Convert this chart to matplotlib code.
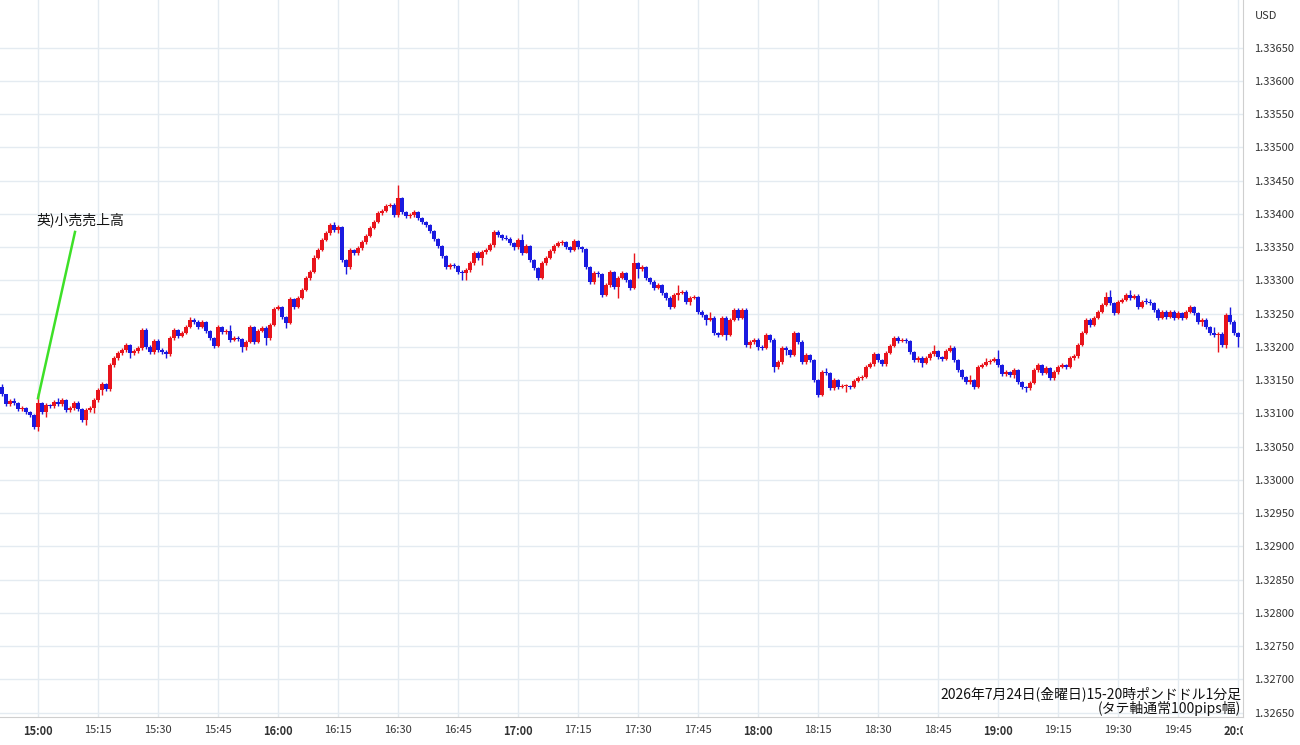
import numpy as np
import pandas as pd
import matplotlib
matplotlib.use('Agg')
import matplotlib.pyplot as plt
import matplotlib.dates as mdates
from matplotlib.transforms import Bbox, TransformedBbox

plt.rcParams['font.family'] = ['Noto Sans CJK JP', 'DejaVu Sans']

# GBP/USD 1-minute candles, 2026-07-24 14:51 - 20:00
start_time = '2026-07-24 14:51'
first_open = 1.33140

closes = np.array([
    1.33129, 1.33114, 1.33119, 1.33116, 1.33107, 1.33108, 1.33102, 1.33098, 1.33080, 1.33116,
    1.33102, 1.33113, 1.33111, 1.33117, 1.33114, 1.33120, 1.33105, 1.33108, 1.33116, 1.33107,
    1.33090, 1.33105, 1.33108, 1.33120, 1.33135, 1.33144, 1.33137, 1.33173, 1.33183, 1.33191,
    1.33195, 1.33203, 1.33191, 1.33194, 1.33199, 1.33226, 1.33200, 1.33192, 1.33209, 1.33195,
    1.33192, 1.33189, 1.33214, 1.33226, 1.33217, 1.33221, 1.33230, 1.33241, 1.33238, 1.33230,
    1.33238, 1.33224, 1.33214, 1.33202, 1.33230, 1.33223, 1.33224, 1.33211, 1.33214, 1.33212,
    1.33200, 1.33208, 1.33230, 1.33208, 1.33224, 1.33229, 1.33214, 1.33233, 1.33257, 1.33260,
    1.33245, 1.33236, 1.33272, 1.33260, 1.33274, 1.33286, 1.33304, 1.33313, 1.33334, 1.33346,
    1.33361, 1.33371, 1.33383, 1.33376, 1.33380, 1.33331, 1.33320, 1.33346, 1.33341, 1.33349,
    1.33358, 1.33367, 1.33379, 1.33388, 1.33402, 1.33405, 1.33412, 1.33414, 1.33398, 1.33424,
    1.33403, 1.33397, 1.33398, 1.33403, 1.33394, 1.33388, 1.33383, 1.33374, 1.33362, 1.33352,
    1.33337, 1.33320, 1.33323, 1.33322, 1.33313, 1.33311, 1.33316, 1.33326, 1.33341, 1.33334,
    1.33343, 1.33346, 1.33353, 1.33373, 1.33368, 1.33364, 1.33363, 1.33356, 1.33350, 1.33361,
    1.33341, 1.33352, 1.33331, 1.33319, 1.33304, 1.33326, 1.33334, 1.33344, 1.33352, 1.33356,
    1.33358, 1.33350, 1.33346, 1.33359, 1.33350, 1.33347, 1.33320, 1.33298, 1.33311, 1.33310,
    1.33278, 1.33293, 1.33313, 1.33290, 1.33304, 1.33311, 1.33301, 1.33289, 1.33326, 1.33317,
    1.33320, 1.33304, 1.33298, 1.33289, 1.33293, 1.33281, 1.33274, 1.33260, 1.33278, 1.33281,
    1.33283, 1.33268, 1.33274, 1.33275, 1.33253, 1.33248, 1.33241, 1.33244, 1.33221, 1.33218,
    1.33244, 1.33218, 1.33241, 1.33256, 1.33244, 1.33256, 1.33203, 1.33208, 1.33211, 1.33200,
    1.33199, 1.33218, 1.33211, 1.33170, 1.33177, 1.33199, 1.33195, 1.33188, 1.33221, 1.33208,
    1.33177, 1.33188, 1.33180, 1.33150, 1.33128, 1.33162, 1.33161, 1.33138, 1.33150, 1.33140,
    1.33141, 1.33142, 1.33140, 1.33149, 1.33153, 1.33155, 1.33170, 1.33174, 1.33189, 1.33180,
    1.33174, 1.33191, 1.33202, 1.33214, 1.33209, 1.33211, 1.33209, 1.33192, 1.33180, 1.33183,
    1.33176, 1.33183, 1.33189, 1.33194, 1.33185, 1.33182, 1.33194, 1.33199, 1.33180, 1.33165,
    1.33155, 1.33147, 1.33150, 1.33140, 1.33170, 1.33173, 1.33177, 1.33179, 1.33182, 1.33173,
    1.33159, 1.33162, 1.33158, 1.33165, 1.33147, 1.33140, 1.33138, 1.33146, 1.33165, 1.33173,
    1.33161, 1.33168, 1.33153, 1.33162, 1.33170, 1.33173, 1.33170, 1.33183, 1.33186, 1.33203,
    1.33221, 1.33241, 1.33233, 1.33244, 1.33253, 1.33263, 1.33275, 1.33266, 1.33251, 1.33268,
    1.33271, 1.33278, 1.33274, 1.33277, 1.33260, 1.33268, 1.33267, 1.33266, 1.33256, 1.33244,
    1.33253, 1.33245, 1.33253, 1.33244, 1.33251, 1.33244, 1.33253, 1.33260, 1.33251, 1.33238,
    1.33241, 1.33230, 1.33221, 1.33218, 1.33220, 1.33203, 1.33248, 1.33238, 1.33221, 1.33215,
])

highs = np.array([
    1.33144, 1.33129, 1.33122, 1.33123, 1.33118, 1.33111, 1.33110, 1.33104, 1.33099, 1.33131,
    1.33118, 1.33116, 1.33115, 1.33120, 1.33123, 1.33123, 1.33122, 1.33112, 1.33119, 1.33119,
    1.33109, 1.33108, 1.33111, 1.33123, 1.33138, 1.33147, 1.33146, 1.33176, 1.33186, 1.33194,
    1.33198, 1.33206, 1.33205, 1.33197, 1.33202, 1.33229, 1.33228, 1.33203, 1.33212, 1.33212,
    1.33198, 1.33195, 1.33217, 1.33229, 1.33227, 1.33224, 1.33233, 1.33245, 1.33243, 1.33240,
    1.33241, 1.33239, 1.33226, 1.33215, 1.33233, 1.33232, 1.33227, 1.33233, 1.33217, 1.33217,
    1.33214, 1.33211, 1.33233, 1.33232, 1.33227, 1.33232, 1.33231, 1.33236, 1.33260, 1.33263,
    1.33262, 1.33246, 1.33275, 1.33274, 1.33277, 1.33289, 1.33307, 1.33316, 1.33338, 1.33349,
    1.33364, 1.33374, 1.33386, 1.33388, 1.33383, 1.33382, 1.33333, 1.33349, 1.33348, 1.33352,
    1.33361, 1.33370, 1.33382, 1.33391, 1.33405, 1.33408, 1.33415, 1.33417, 1.33416, 1.33444,
    1.33426, 1.33405, 1.33401, 1.33406, 1.33405, 1.33396, 1.33390, 1.33385, 1.33376, 1.33364,
    1.33354, 1.33339, 1.33326, 1.33326, 1.33324, 1.33316, 1.33319, 1.33329, 1.33344, 1.33344,
    1.33346, 1.33349, 1.33356, 1.33376, 1.33376, 1.33370, 1.33368, 1.33366, 1.33358, 1.33364,
    1.33370, 1.33355, 1.33354, 1.33333, 1.33321, 1.33329, 1.33337, 1.33347, 1.33355, 1.33359,
    1.33361, 1.33360, 1.33352, 1.33362, 1.33361, 1.33352, 1.33349, 1.33322, 1.33314, 1.33314,
    1.33312, 1.33296, 1.33316, 1.33315, 1.33307, 1.33314, 1.33313, 1.33303, 1.33341, 1.33328,
    1.33323, 1.33322, 1.33306, 1.33300, 1.33296, 1.33295, 1.33283, 1.33276, 1.33281, 1.33293,
    1.33286, 1.33285, 1.33277, 1.33278, 1.33277, 1.33255, 1.33250, 1.33253, 1.33246, 1.33223,
    1.33247, 1.33246, 1.33244, 1.33259, 1.33258, 1.33259, 1.33258, 1.33211, 1.33214, 1.33213,
    1.33203, 1.33221, 1.33220, 1.33213, 1.33180, 1.33202, 1.33201, 1.33197, 1.33224, 1.33223,
    1.33210, 1.33191, 1.33190, 1.33182, 1.33152, 1.33165, 1.33168, 1.33163, 1.33153, 1.33152,
    1.33144, 1.33144, 1.33143, 1.33152, 1.33156, 1.33158, 1.33173, 1.33177, 1.33192, 1.33191,
    1.33182, 1.33194, 1.33205, 1.33217, 1.33216, 1.33214, 1.33213, 1.33211, 1.33194, 1.33186,
    1.33186, 1.33186, 1.33192, 1.33203, 1.33196, 1.33187, 1.33197, 1.33203, 1.33201, 1.33182,
    1.33167, 1.33157, 1.33158, 1.33152, 1.33173, 1.33176, 1.33183, 1.33182, 1.33185, 1.33195,
    1.33175, 1.33165, 1.33164, 1.33168, 1.33167, 1.33149, 1.33142, 1.33149, 1.33168, 1.33176,
    1.33175, 1.33171, 1.33170, 1.33165, 1.33173, 1.33176, 1.33175, 1.33186, 1.33189, 1.33206,
    1.33224, 1.33244, 1.33243, 1.33247, 1.33256, 1.33266, 1.33283, 1.33286, 1.33268, 1.33271,
    1.33274, 1.33281, 1.33286, 1.33280, 1.33279, 1.33271, 1.33274, 1.33272, 1.33268, 1.33258,
    1.33256, 1.33255, 1.33256, 1.33255, 1.33254, 1.33253, 1.33256, 1.33263, 1.33262, 1.33253,
    1.33244, 1.33243, 1.33232, 1.33230, 1.33223, 1.33222, 1.33251, 1.33260, 1.33240, 1.33223,
])

lows = np.array([
    1.33126, 1.33111, 1.33112, 1.33113, 1.33104, 1.33104, 1.33099, 1.33095, 1.33077, 1.33074,
    1.33099, 1.33095, 1.33108, 1.33109, 1.33111, 1.33112, 1.33102, 1.33103, 1.33105, 1.33104,
    1.33087, 1.33083, 1.33102, 1.33101, 1.33118, 1.33128, 1.33134, 1.33134, 1.33170, 1.33180,
    1.33188, 1.33192, 1.33183, 1.33188, 1.33191, 1.33196, 1.33197, 1.33189, 1.33190, 1.33192,
    1.33189, 1.33183, 1.33187, 1.33211, 1.33214, 1.33215, 1.33219, 1.33228, 1.33235, 1.33227,
    1.33228, 1.33221, 1.33211, 1.33199, 1.33200, 1.33220, 1.33220, 1.33208, 1.33209, 1.33209,
    1.33192, 1.33195, 1.33206, 1.33205, 1.33206, 1.33222, 1.33203, 1.33211, 1.33231, 1.33255,
    1.33242, 1.33229, 1.33234, 1.33257, 1.33258, 1.33272, 1.33284, 1.33301, 1.33311, 1.33332,
    1.33344, 1.33359, 1.33369, 1.33373, 1.33371, 1.33328, 1.33310, 1.33318, 1.33338, 1.33339,
    1.33346, 1.33355, 1.33365, 1.33377, 1.33386, 1.33399, 1.33403, 1.33410, 1.33395, 1.33396,
    1.33400, 1.33394, 1.33394, 1.33396, 1.33391, 1.33385, 1.33380, 1.33371, 1.33359, 1.33349,
    1.33334, 1.33317, 1.33317, 1.33319, 1.33310, 1.33301, 1.33301, 1.33313, 1.33324, 1.33331,
    1.33323, 1.33340, 1.33344, 1.33351, 1.33365, 1.33361, 1.33361, 1.33353, 1.33346, 1.33348,
    1.33338, 1.33346, 1.33328, 1.33316, 1.33301, 1.33302, 1.33324, 1.33332, 1.33342, 1.33350,
    1.33354, 1.33347, 1.33343, 1.33344, 1.33347, 1.33343, 1.33317, 1.33295, 1.33295, 1.33306,
    1.33275, 1.33276, 1.33290, 1.33287, 1.33274, 1.33302, 1.33298, 1.33286, 1.33287, 1.33304,
    1.33314, 1.33301, 1.33295, 1.33286, 1.33287, 1.33278, 1.33271, 1.33257, 1.33258, 1.33271,
    1.33279, 1.33265, 1.33263, 1.33272, 1.33250, 1.33245, 1.33233, 1.33239, 1.33218, 1.33215,
    1.33216, 1.33211, 1.33216, 1.33239, 1.33241, 1.33242, 1.33200, 1.33199, 1.33205, 1.33196,
    1.33196, 1.33197, 1.33208, 1.33162, 1.33167, 1.33175, 1.33188, 1.33185, 1.33186, 1.33205,
    1.33174, 1.33175, 1.33177, 1.33147, 1.33125, 1.33126, 1.33158, 1.33135, 1.33136, 1.33137,
    1.33138, 1.33132, 1.33137, 1.33138, 1.33147, 1.33151, 1.33153, 1.33168, 1.33172, 1.33177,
    1.33171, 1.33172, 1.33189, 1.33200, 1.33206, 1.33207, 1.33206, 1.33189, 1.33177, 1.33178,
    1.33170, 1.33174, 1.33181, 1.33187, 1.33182, 1.33179, 1.33180, 1.33192, 1.33177, 1.33162,
    1.33152, 1.33144, 1.33145, 1.33137, 1.33138, 1.33168, 1.33171, 1.33175, 1.33177, 1.33170,
    1.33156, 1.33157, 1.33155, 1.33153, 1.33144, 1.33137, 1.33132, 1.33136, 1.33144, 1.33163,
    1.33158, 1.33159, 1.33150, 1.33151, 1.33160, 1.33168, 1.33167, 1.33168, 1.33180, 1.33183,
    1.33201, 1.33219, 1.33230, 1.33231, 1.33242, 1.33251, 1.33261, 1.33263, 1.33248, 1.33249,
    1.33266, 1.33269, 1.33271, 1.33272, 1.33257, 1.33258, 1.33265, 1.33263, 1.33253, 1.33241,
    1.33242, 1.33242, 1.33243, 1.33241, 1.33242, 1.33241, 1.33242, 1.33251, 1.33248, 1.33235,
    1.33232, 1.33227, 1.33218, 1.33215, 1.33192, 1.33200, 1.33199, 1.33235, 1.33218, 1.33200,
])

price_ticks = np.arange(1.32650, 1.33651, 0.0005)
event_time = '2026-07-24 15:00'
event_price = 1.33123
event_label = '英)小売売上高'
note_text = '2026年7月24日(金曜日)15-20時ポンドドル1分足\n(タテ軸通常100pips幅)'

UP = '#e8141c'
DOWN = '#1a1ae0'
GRID = '#e4ebf1'

times = pd.date_range(start_time, periods=len(closes), freq='min')
x = mdates.date2num(times)
opens = np.r_[first_open, closes[:-1]]
colors = np.where(closes >= opens, UP, DOWN)

fig = plt.figure(figsize=(13, 7.45), dpi=100)
ax = fig.add_axes([0, 28 / 745, 1243 / 1300, 717 / 745])

# wicks and bodies
lo = np.minimum(lows, np.minimum(opens, closes))
hi = np.maximum(highs, np.maximum(opens, closes))
ax.vlines(x, lo, hi, colors=colors, linewidth=1, zorder=3)
body_lo = np.minimum(opens, closes)
body_h = np.maximum(np.abs(closes - opens), 0.000015)
ax.bar(x, body_h, bottom=body_lo, width=0.8 / 1440, color=colors,
       linewidth=0, align='center', zorder=4, antialiased=False)

minute = 1 / 1440
x0 = mdates.date2num(pd.Timestamp('2026-07-24 15:00'))
ax.set_xlim(x0 - 9.5 * minute, x0 + 301.25 * minute)
ax.set_ylim(1.326436, 1.337218)

# grid and axes
tick_times = pd.date_range('2026-07-24 15:00', '2026-07-24 20:00', freq='15min')
ax.set_xticks(mdates.date2num(tick_times))
ax.set_xticklabels([t.strftime('%H:%M') for t in tick_times])
ax.set_yticks(price_ticks)
ax.set_yticklabels(['%.5f' % p for p in price_ticks])
ax.grid(True, color=GRID, linewidth=1, zorder=0)
ax.set_axisbelow(True)

ax.yaxis.tick_right()
ax.tick_params(axis='y', length=0, pad=8, labelsize=8, labelcolor='#333333')
ax.tick_params(axis='x', length=0, pad=6, labelsize=8, labelcolor='#333333')
for spine in ['top', 'left']:
    ax.spines[spine].set_visible(False)
for spine in ['right', 'bottom']:
    ax.spines[spine].set_color('#cfcfcf')

clip = TransformedBbox(Bbox([[0, 0], [1243 / 1300, 1]]), fig.transFigure)
for lab in ax.get_xticklabels():
    if lab.get_text().endswith(':00'):
        lab.set_fontweight('bold')
    lab.set_clip_box(clip)
    lab.set_clip_on(True)

fig.text(1255 / 1300, 1 - 16 / 745, 'USD', fontsize=8, color='#333333', va='center')

# event annotation
ex = mdates.date2num(pd.Timestamp(event_time))
ax.plot([ex, ex + 9.25 * minute], [event_price, 1.33373], color='#3ee028',
        linewidth=1.8, zorder=5)
ax.text(ex - 0.5 * minute, 1.33391, event_label, fontsize=10, color='#111111',
        ha='left', va='center', zorder=6)

ax.text(0.9985, 0.002, note_text, transform=ax.transAxes, fontsize=10,
        ha='right', va='bottom', color='#111111', linespacing=0.95,
        multialignment='right')

fig.savefig('out.png', dpi=100)
